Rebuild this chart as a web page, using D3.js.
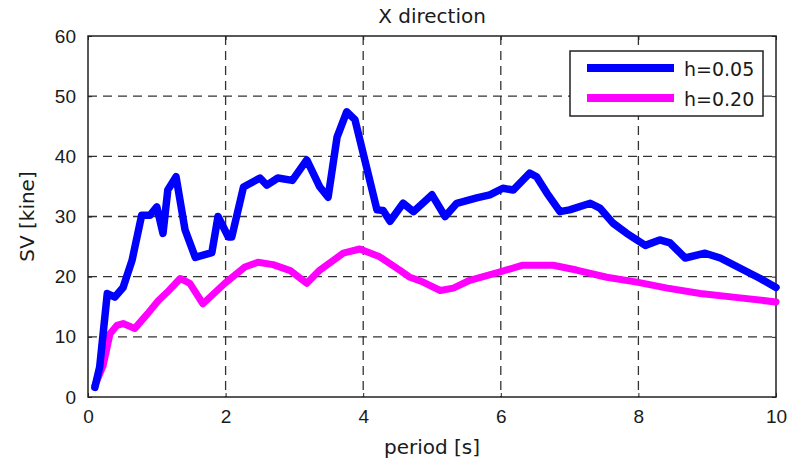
<!DOCTYPE html>
<html>
<head>
<meta charset="utf-8">
<script src="https://cdn.jsdelivr.net/npm/d3@7"></script>
<style>
    body { margin: 0; background: #fff; }
    svg { display: block; font-family: "DejaVu Sans", sans-serif; }
    .grid line { stroke: #333; stroke-width: 1.3; stroke-dasharray: 9, 6; }
    .axis text { font-size: 19px; fill: #1a1a1a; }
</style>
</head>
<body>
<svg width="801" height="464"></svg>
<script>
/*global d3 */

// h = 0.05, [period (s), SV (kine)]
var h005 = [
    [0.10, 1.6], [0.17, 5.0], [0.28, 17.2], [0.39, 16.6], [0.51, 18.2],
    [0.64, 22.7], [0.78, 30.2], [0.90, 30.2], [1.00, 31.6], [1.09, 27.2],
    [1.16, 34.4], [1.28, 36.6], [1.41, 27.8], [1.56, 23.2], [1.80, 24.0],
    [1.89, 30.0], [2.04, 26.6], [2.09, 26.6], [2.26, 34.9], [2.50, 36.4],
    [2.60, 35.2], [2.76, 36.4], [2.97, 36.0], [3.18, 39.4], [3.37, 34.9],
    [3.49, 33.2], [3.62, 43.2], [3.76, 47.4], [3.88, 46.1], [4.20, 31.1],
    [4.29, 31.0], [4.39, 29.2], [4.58, 32.2], [4.73, 30.8], [5.00, 33.6],
    [5.19, 30.0], [5.36, 32.2], [5.65, 33.1], [5.84, 33.6], [6.03, 34.7],
    [6.18, 34.4], [6.42, 37.2], [6.52, 36.6], [6.67, 33.9], [6.86, 30.8],
    [7.00, 31.1], [7.30, 32.2], [7.44, 31.4], [7.63, 28.9], [7.83, 27.2],
    [8.10, 25.2], [8.31, 26.1], [8.46, 25.6], [8.68, 23.1], [8.97, 23.9],
    [9.19, 23.1], [9.48, 21.4], [9.77, 19.7], [10.0, 18.2]
];

// h = 0.20
var h020 = [
    [0.10, 1.9], [0.22, 5.2], [0.32, 10.5], [0.42, 11.9], [0.51, 12.2],
    [0.68, 11.4], [0.87, 13.9], [1.02, 16.0], [1.15, 17.4], [1.34, 19.7],
    [1.48, 18.9], [1.67, 15.5], [1.99, 18.9], [2.28, 21.6], [2.47, 22.4],
    [2.69, 22.0], [2.94, 21.0], [3.18, 18.9], [3.37, 21.1], [3.71, 23.9],
    [3.95, 24.6], [4.24, 23.3], [4.53, 21.1], [4.68, 19.9], [4.87, 19.1],
    [5.12, 17.7], [5.31, 18.1], [5.55, 19.4], [5.99, 20.8], [6.32, 21.9],
    [6.76, 21.9], [7.10, 21.1], [7.54, 19.9], [7.98, 19.1], [8.42, 18.1],
    [8.90, 17.2], [9.38, 16.6], [10.0, 15.8]
];

var xTicks = [0, 2, 4, 6, 8, 10];
var yTicks = [0, 10, 20, 30, 40, 50, 60];
var seriesNames = ["h=0.05", "h=0.20"];
var seriesColors = ["#0000ff", "#ff00ff"];

var margin = {top: 36, left: 88, bottom: 67, right: 25};
var svg = d3.select("svg");
var width = 801 - margin.left - margin.right;
var height = 464 - margin.top - margin.bottom;

var xScale = d3.scaleLinear().domain([0, 10]).range([0, width]);
var yScale = d3.scaleLinear().domain([0, 60]).range([height, 0]);

var main = svg.append("g")
    .attr("transform", "translate(" + margin.left + "," + margin.top + ")");

// dashed grid
main.append("g").attr("class", "grid")
    .selectAll("line").data(xTicks.slice(1, -1)).join("line")
    .attr("x1", xScale).attr("x2", xScale)
    .attr("y1", 0).attr("y2", height);
main.append("g").attr("class", "grid")
    .selectAll("line").data(yTicks.slice(1, -1)).join("line")
    .attr("y1", yScale).attr("y2", yScale)
    .attr("x1", 0).attr("x2", width);

var addAxis = function (axis, cls, tx, ty, showText) {
    var g = main.append("g")
        .attr("class", "axis " + cls)
        .attr("transform", "translate(" + tx + "," + ty + ")")
        .call(axis);
    g.select(".domain").remove();
    g.selectAll(".tick line").attr("stroke", "#222");
    if (!showText) {
        g.selectAll("text").remove();
    }
    return g;
};

addAxis(d3.axisBottom(xScale).tickValues(xTicks).tickSize(-4)
    .tickPadding(13), "x", 0, height, true);
addAxis(d3.axisTop(xScale).tickValues(xTicks).tickSize(-4), "x2", 0, 0);
addAxis(d3.axisLeft(yScale).tickValues(yTicks).tickSize(-4)
    .tickPadding(12), "y", 0, 0, true);
addAxis(d3.axisRight(yScale).tickValues(yTicks).tickSize(-4), "y2",
        width, 0);

main.append("rect")
    .attr("width", width).attr("height", height)
    .attr("fill", "none").attr("stroke", "#222").attr("stroke-width", 1.5);

var line = d3.line()
    .x(function (d) { return xScale(d[0]); })
    .y(function (d) { return yScale(d[1]); });

main.append("path").datum(h020)
    .attr("d", line).attr("fill", "none")
    .attr("stroke", seriesColors[1]).attr("stroke-width", 7)
    .attr("stroke-linejoin", "round").attr("stroke-linecap", "round");
main.append("path").datum(h005)
    .attr("d", line).attr("fill", "none")
    .attr("stroke", seriesColors[0]).attr("stroke-width", 7.5)
    .attr("stroke-linejoin", "round").attr("stroke-linecap", "round");

// legend
var legend = svg.append("g").attr("transform", "translate(570,51)");
legend.append("rect")
    .attr("width", 193).attr("height", 65)
    .attr("fill", "#fff").attr("stroke", "#222").attr("stroke-width", 1.5);
seriesNames.forEach(function (name, i) {
    var y = 17 + i * 30;
    legend.append("line")
        .attr("x1", 17).attr("x2", 104).attr("y1", y).attr("y2", y)
        .attr("stroke", seriesColors[i]).attr("stroke-width", 8);
    legend.append("text")
        .attr("x", 114).attr("y", y + 8)
        .attr("font-size", 19).attr("fill", "#1a1a1a")
        .text(name);
});

svg.append("text")
    .attr("x", margin.left + width / 2).attr("y", 23)
    .attr("text-anchor", "middle").attr("font-size", 20)
    .attr("fill", "#1a1a1a")
    .text("X direction");
svg.append("text")
    .attr("x", margin.left + width / 2).attr("y", 454)
    .attr("text-anchor", "middle").attr("font-size", 20)
    .attr("fill", "#1a1a1a")
    .text("period [s]");
svg.append("text")
    .attr("transform", "translate(34," + (margin.top + height / 2) +
            ") rotate(-90)")
    .attr("text-anchor", "middle").attr("font-size", 20)
    .attr("fill", "#1a1a1a")
    .text("SV [kine]");
</script>
</body>
</html>
